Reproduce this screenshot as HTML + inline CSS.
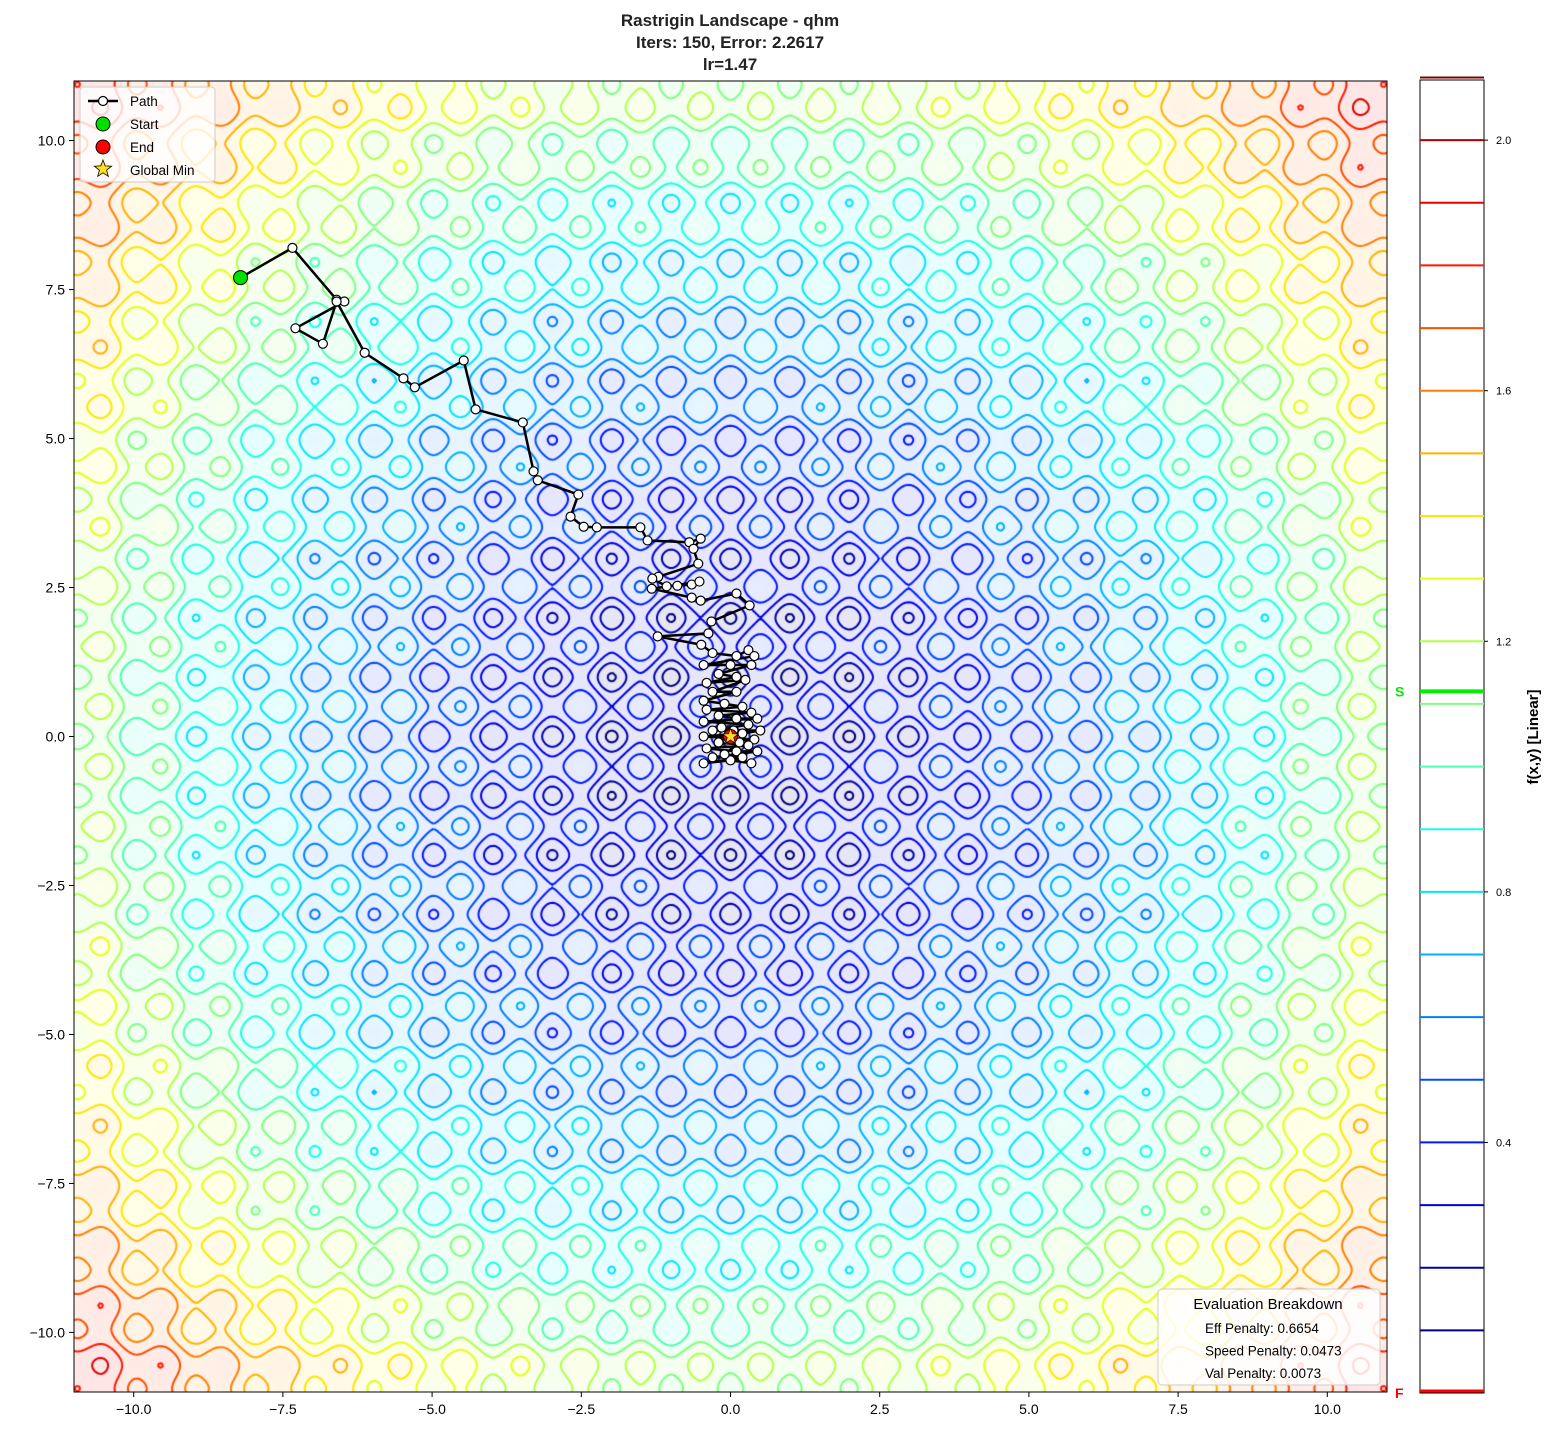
<!DOCTYPE html>
<html><head><meta charset="utf-8"><style>
body{margin:0;background:#fff;font-family:"Liberation Sans",sans-serif;}
#wrap{position:relative;width:1555px;height:1435px;}
canvas{position:absolute;left:74px;top:81px;}
svg{position:absolute;left:0;top:0;}
</style></head><body>
<div id="wrap">
<canvas id="cv" width="1313" height="1311"></canvas>
<svg id="sv" width="1555" height="1435"></svg>
</div>
<script>
const xTicks=[-10,-7.5,-5,-2.5,0,2.5,5,7.5,10];
const yTicks=[-10,-7.5,-5,-2.5,0,2.5,5,7.5,10];
const cbTicks=[0.4,0.8,1.2,1.6,2.0];
const levels=[0.1,0.2,0.3,0.4,0.5,0.6,0.7,0.8,0.9,1.0,1.1,1.2,1.3,1.4,1.5,1.6,1.7,1.8,1.9,2.0,2.1];
const pathX=[-8.21,-7.34,-6.60,-6.47,-7.29,-6.83,-6.60,-6.13,-5.48,-5.29,-4.47,-4.27,-3.48,-3.30,-3.23,-2.55,-2.68,-2.46,-2.24,-1.51,-1.39,-0.69,-0.50,-0.62,-0.54,-1.21,-1.31,-1.07,-0.89,-0.65,-0.52,-1.32,-0.65,-0.50,0.10,0.32,-0.32,-0.37,-1.22,-0.49,-0.3,0.1,0.3,0.4,-0.45,0.0,0.35,-0.2,0.1,-0.4,0.25,-0.3,0.1,-0.45,-0.1,0.2,-0.4,0.35,-0.2,0.1,0.45,-0.45,0.3,-0.3,0.5,0.2,-0.45,0.4,-0.2,0.3,-0.4,0.1,0.45,-0.3,0.2,-0.45,0.0,0.35,-0.1,0.15,-0.15,0.05,-0.05,0.0];
const pathY=[7.70,8.20,7.33,7.30,6.85,6.59,7.30,6.44,6.01,5.86,6.31,5.49,5.27,4.45,4.30,4.06,3.69,3.52,3.51,3.51,3.29,3.26,3.32,3.15,2.90,2.68,2.65,2.52,2.53,2.55,2.60,2.48,2.33,2.28,2.40,2.20,1.93,1.73,1.68,1.54,1.4,1.35,1.45,1.35,1.2,1.2,1.2,1.05,1.0,0.9,0.95,0.75,0.75,0.6,0.55,0.5,0.45,0.4,0.35,0.3,0.3,0.25,0.2,0.1,0.1,0.05,0.0,-0.05,-0.1,-0.15,-0.2,-0.25,-0.25,-0.35,-0.35,-0.45,-0.4,-0.45,-0.3,-0.1,0.15,0.1,-0.05,0.0];
const startPt=[-8.21,7.70];
const endPt=[0.0,0.0];
const globalMin=[0,0];
const startVal=1.12, finalVal=0.0;
const evalLines=["Eff Penalty: 0.6654","Speed Penalty: 0.0473","Val Penalty: 0.0073"];

const L=74,T=81,W=1313,H=1311,XMIN=-11,XMAX=11,YMIN=-11,YMAX=11;
const sx=v=>L+(v-XMIN)/(XMAX-XMIN)*W;
const sy=v=>T+(YMAX-v)/(YMAX-YMIN)*H;
const CB_T=80,CB_B=1393,CB_MAX=2.096;
const cy=v=>CB_B-v/CB_MAX*(CB_B-CB_T);
function fz(x,y){const f=20+x*x-10*Math.cos(2*Math.PI*x)+y*y-10*Math.cos(2*Math.PI*y);return 1.92*Math.pow(Math.max(f,0)/262,0.78);}
function jet(t){t=Math.max(0,Math.min(1,t));
 const r=Math.max(0,Math.min(1,1.5-Math.abs(4*t-3))),g=Math.max(0,Math.min(1,1.5-Math.abs(4*t-2))),b=Math.max(0,Math.min(1,1.5-Math.abs(4*t-1)));return [r*255,g*255,b*255];}
const cnorm=v=>(v-0.1)/2.0;
const rgb=c=>`rgb(${c[0]|0},${c[1]|0},${c[2]|0})`;

const cv=document.getElementById('cv'),ctx=cv.getContext('2d');
const img=ctx.createImageData(W,H);
for(let j=0;j<H;j+=2)for(let i=0;i<W;i+=2){
 const x=XMIN+(i+1)/W*22,y=YMAX-(j+1)/H*22;const c=jet(cnorm(fz(x,y)));
 for(let dj=0;dj<2;dj++)for(let di=0;di<2;di++){if(j+dj>=H||i+di>=W)continue;const k=((j+dj)*W+i+di)*4;
 img.data[k]=255*0.9+c[0]*0.1;img.data[k+1]=255*0.9+c[1]*0.1;img.data[k+2]=255*0.9+c[2]*0.1;img.data[k+3]=255;}}
ctx.putImageData(img,0,0);
const N=560,st=22/N,G=new Float32Array((N+1)*(N+1));
for(let j=0;j<=N;j++)for(let i=0;i<=N;i++)G[j*(N+1)+i]=fz(XMIN+i*st,YMAX-j*st);
ctx.lineWidth=2;ctx.lineCap='round';
const px=i=>i/N*W,py=j=>j/N*H;
levels.forEach(lv=>{
 ctx.strokeStyle=rgb(jet(cnorm(lv)));ctx.beginPath();
 for(let j=0;j<N;j++)for(let i=0;i<N;i++){
  const a=G[j*(N+1)+i],b=G[j*(N+1)+i+1],c=G[(j+1)*(N+1)+i+1],d=G[(j+1)*(N+1)+i];
  let idx=(a>lv?8:0)|(b>lv?4:0)|(c>lv?2:0)|(d>lv?1:0);if(idx===0||idx===15)continue;
  const top=[px(i+(lv-a)/(b-a)),py(j)],right=[px(i+1),py(j+(lv-b)/(c-b))],bot=[px(i+(lv-d)/(c-d)),py(j+1)],left=[px(i),py(j+(lv-a)/(d-a))];
  const segs={1:[[left,bot]],2:[[bot,right]],3:[[left,right]],4:[[top,right]],5:[[left,top],[bot,right]],6:[[top,bot]],7:[[left,top]],8:[[left,top]],9:[[top,bot]],10:[[left,bot],[top,right]],11:[[top,right]],12:[[left,right]],13:[[bot,right]],14:[[left,bot]]}[idx];
  segs.forEach(s=>{ctx.moveTo(s[0][0],s[0][1]);ctx.lineTo(s[1][0],s[1][1]);});
 }
 ctx.stroke();});

const NS='http://www.w3.org/2000/svg',sv=document.getElementById('sv');
function mk(tag,at,parent){const e=document.createElementNS(NS,tag);for(const k in at)e.setAttribute(k,at[k]);(parent||sv).appendChild(e);return e;}
function txt(s,at,p){const e=mk('text',at,p);e.textContent=s;return e;}
const fmt=v=>(v<0?'\u2212':'')+Math.abs(v).toFixed(1);

const tg=mk('g',{});
["Rastrigin Landscape - qhm","Iters: 150, Error: 2.2617","lr=1.47"].forEach((s,i)=>txt(s,{x:730,y:26+i*22,'text-anchor':'middle','font-size':17,'font-weight':'bold',fill:'#222'},tg));

const pg=mk('g',{});
mk('polyline',{points:pathX.map((x,i)=>sx(x)+','+sy(pathY[i])).join(' '),fill:'none',stroke:'#000','stroke-width':2.5,'stroke-linejoin':'round'},pg);
pathX.forEach((x,i)=>{const c=mk('circle',{cx:sx(x),cy:sy(pathY[i]),r:4.5,fill:'#fff',stroke:'#000','stroke-width':1.2},pg);

});
const sp=mk('circle',{cx:sx(startPt[0]),cy:sy(startPt[1]),r:7,fill:'#00e000',stroke:'#000','stroke-width':1});

const ep=mk('circle',{cx:sx(endPt[0]),cy:sy(endPt[1]),r:7,fill:'#f00',stroke:'#000','stroke-width':1});

function star(cx,cy,R){let p=[];for(let k=0;k<10;k++){const r=k%2?R*0.42:R,a=-Math.PI/2+k*Math.PI/5;p.push((cx+r*Math.cos(a)).toFixed(1)+','+(cy+r*Math.sin(a)).toFixed(1));}return p.join(' ');}
const gm=mk('polygon',{points:star(sx(globalMin[0]),sy(globalMin[1]),8),fill:'#ffe020',stroke:'#000','stroke-width':0.6});


const fr=mk('rect',{x:L,y:T,width:W,height:H,fill:'none',stroke:'#000','stroke-width':1});

const xa=mk('g',{});
xTicks.forEach(v=>{mk('line',{x1:sx(v),x2:sx(v),y1:T+H,y2:T+H+5,stroke:'#000'},xa);txt(fmt(v),{x:sx(v),y:T+H+22,'text-anchor':'middle','font-size':14},xa);});
const ya=mk('g',{});
yTicks.forEach(v=>{mk('line',{x1:L-5,x2:L,y1:sy(v),y2:sy(v),stroke:'#000'},ya);txt(fmt(v),{x:L-9,y:sy(v)+5,'text-anchor':'end','font-size':14},ya);});

const lg=mk('g',{});
mk('rect',{x:80,y:87,width:135,height:95,rx:4,fill:'#fff','fill-opacity':0.8,stroke:'#ccc'},lg);
mk('line',{x1:88,x2:118,y1:101,y2:101,stroke:'#000','stroke-width':2.5},lg);
mk('circle',{cx:103,cy:101,r:4.5,fill:'#fff',stroke:'#000','stroke-width':1.2},lg);
mk('circle',{cx:103,cy:124,r:7,fill:'#00e000',stroke:'#000'},lg);
mk('circle',{cx:103,cy:147,r:7,fill:'#f00',stroke:'#000'},lg);
mk('polygon',{points:star(103,169,9),fill:'#ffe020',stroke:'#000','stroke-width':0.8},lg);
["Path","Start","End","Global Min"].forEach((s,i)=>txt(s,{x:130,y:106+i*23,'font-size':13.5},lg));

const eb=mk('g',{});
mk('rect',{x:1158,y:1289,width:222,height:96,rx:4,fill:'#fff','fill-opacity':0.85,stroke:'#ccc'},eb);
txt("Evaluation Breakdown",{x:1268,y:1309,'text-anchor':'middle','font-size':15},eb);
evalLines.forEach((s,i)=>txt(s,{x:1205,y:1333+i*22.5,'font-size':13.5},eb));

const cb=mk('g',{});
mk('rect',{x:1420,y:CB_T,width:64,height:CB_B-CB_T,fill:'#fff',stroke:'#000'},cb);
levels.forEach(v=>mk('line',{x1:1420,x2:1484,y1:cy(v),y2:cy(v),stroke:rgb(jet(cnorm(v))),'stroke-width':2},cb));
mk('line',{x1:1420,x2:1484,y1:cy(startVal),y2:cy(startVal),stroke:'#00ee00','stroke-width':4},cb);
mk('line',{x1:1420,x2:1484,y1:cy(finalVal)-2,y2:cy(finalVal)-2,stroke:'#f00','stroke-width':3},cb);
txt('S',{x:1395,y:cy(startVal)+5,'font-size':14,'font-weight':'bold',fill:'#00ee00'},cb);
txt('F',{x:1395,y:cy(finalVal)+5,'font-size':14,'font-weight':'bold',fill:'#f00'},cb);
cbTicks.forEach(v=>{mk('line',{x1:1484,x2:1488,y1:cy(v),y2:cy(v),stroke:'#000'},cb);txt(v.toFixed(1),{x:1496,y:cy(v)+4,'font-size':11},cb);});
txt('f(x,y) [Linear]',{x:1538,y:737,'text-anchor':'middle','font-size':15,'font-weight':'bold',transform:'rotate(-90 1538 737)'},cb);
</script>
</body></html>
